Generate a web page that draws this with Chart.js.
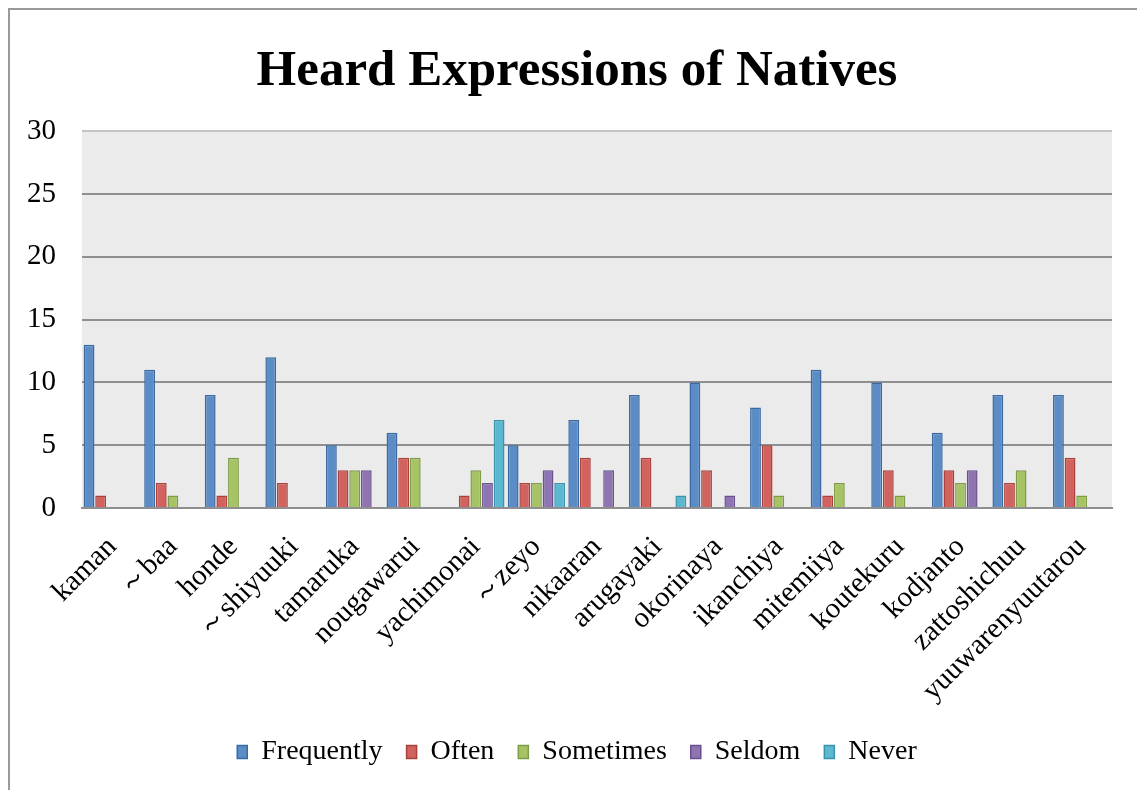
<!DOCTYPE html>
<html>
<head>
<meta charset="utf-8">
<script src="https://cdn.jsdelivr.net/npm/chart.js@4"></script>
<style>
  html, body { margin: 0; padding: 0; background: #fff; }
  #wrap { width: 1137px; height: 790px; }
</style>
</head>
<body>
<div id="wrap"><canvas id="chart" width="1137" height="790"></canvas></div>
<script>
let expressions = ['kaman', '～baa', 'honde', '～shiyuuki', 'tamaruka', 'nougawarui', 'yachimonai', '～zeyo',
  'nikaaran', 'arugayaki', 'okorinaya', 'ikanchiya', 'mitemiiya', 'koutekuru', 'kodjanto', 'zattoshichuu',
  'yuuwarenyuutarou'];

let frequently = [13, 11, 9, 12, 5, 6, 0, 5, 7, 9, 10, 8, 11, 10, 6, 9, 9];
let often      = [1, 2, 1, 2, 3, 4, 1, 2, 4, 4, 3, 5, 1, 3, 3, 2, 4];
let sometimes  = [0, 1, 4, 0, 3, 4, 3, 2, 0, 0, 0, 1, 2, 1, 2, 3, 1];
let seldom     = [0, 0, 0, 0, 3, 0, 2, 3, 3, 0, 1, 0, 0, 0, 3, 0, 0];
let never      = [0, 0, 0, 0, 0, 0, 7, 2, 0, 1, 0, 0, 0, 0, 0, 0, 0];

let yTicks = [0, 5, 10, 15, 20, 25, 30];

let serif = '"Liberation Serif", "Times New Roman", serif';

function series(label, data, fill, line) {
  return {
    label,
    data,
    backgroundColor: fill,
    borderColor: line,
    borderWidth: 1.5,
    borderSkipped: 'start',
    categoryPercentage: 0.96,
    barPercentage: 0.93,
  };
}

// grey plot area plus the thin frame round the whole chart
let backdrop = {
  id: 'backdrop',
  beforeDraw(chart) {
    let ctx = chart.ctx;
    let a = chart.chartArea;
    ctx.save();
    ctx.fillStyle = '#ebebeb';
    ctx.fillRect(a.left, a.top, a.right - a.left, a.bottom - a.top);
    ctx.strokeStyle = '#9a9a9a';
    ctx.lineWidth = 2;
    ctx.strokeRect(9, 9, 1200, 900);
    ctx.restore();
  },
};

// title and legend sit centred on the frame, not on the plot box
let recenter = {
  id: 'recenter',
  afterLayout(chart) {
    let shift = 21;
    [chart.titleBlock, chart.legend].forEach(box => {
      if (!box) return;
      box.left += shift;
      box.right += shift;
    });
  },
};

new Chart(document.getElementById('chart'), {
  type: 'bar',
  data: {
    labels: expressions,
    datasets: [
      series('Frequently', frequently, '#5b8cc6', '#3b6aa2'),
      series('Often', often, '#d2625d', '#a9423e'),
      series('Sometimes', sometimes, '#a6c466', '#7f9b47'),
      series('Seldom', seldom, '#8e74b0', '#6a5190'),
      series('Never', never, '#5bb8d0', '#3a93ab'),
    ],
  },
  options: {
    responsive: false,
    animation: false,
    layout: { padding: { left: 0, right: 25, top: 0, bottom: 14 } },
    plugins: {
      title: {
        display: true,
        text: 'Heard Expressions of Natives',
        color: '#000',
        font: { family: serif, size: 51, weight: 'bold' },
        padding: { top: 41, bottom: 29 },
      },
      legend: {
        position: 'bottom',
        labels: {
          color: '#000',
          font: { family: serif, size: 28 },
          boxWidth: 10,
          boxHeight: 13,
          padding: 24,
        },
      },
      tooltip: { enabled: false },
    },
    scales: {
      x: {
        grid: { display: false },
        border: { display: true, color: '#8f8f8f', width: 2 },
        ticks: {
          color: '#000',
          font: { family: serif, size: 29 },
          minRotation: 45,
          maxRotation: 45,
          autoSkip: false,
          padding: 14,
        },
        afterFit(scale) { scale.height = 206; },
      },
      y: {
        min: 0,
        max: 30,
        border: { display: false },
        grid: {
          color: ctx => (ctx.tick && ctx.tick.value === 30 ? '#c4c4c4' : '#8f8f8f'),
          lineWidth: 2,
          drawTicks: false,
        },
        afterBuildTicks(scale) { scale.ticks = yTicks.map(v => ({ value: v })); },
        ticks: {
          color: '#000',
          font: { family: serif, size: 29 },
          padding: 26,
        },
        afterFit(scale) { scale.width = 82; },
      },
    },
  },
  plugins: [backdrop, recenter],
});
</script>
</body>
</html>
